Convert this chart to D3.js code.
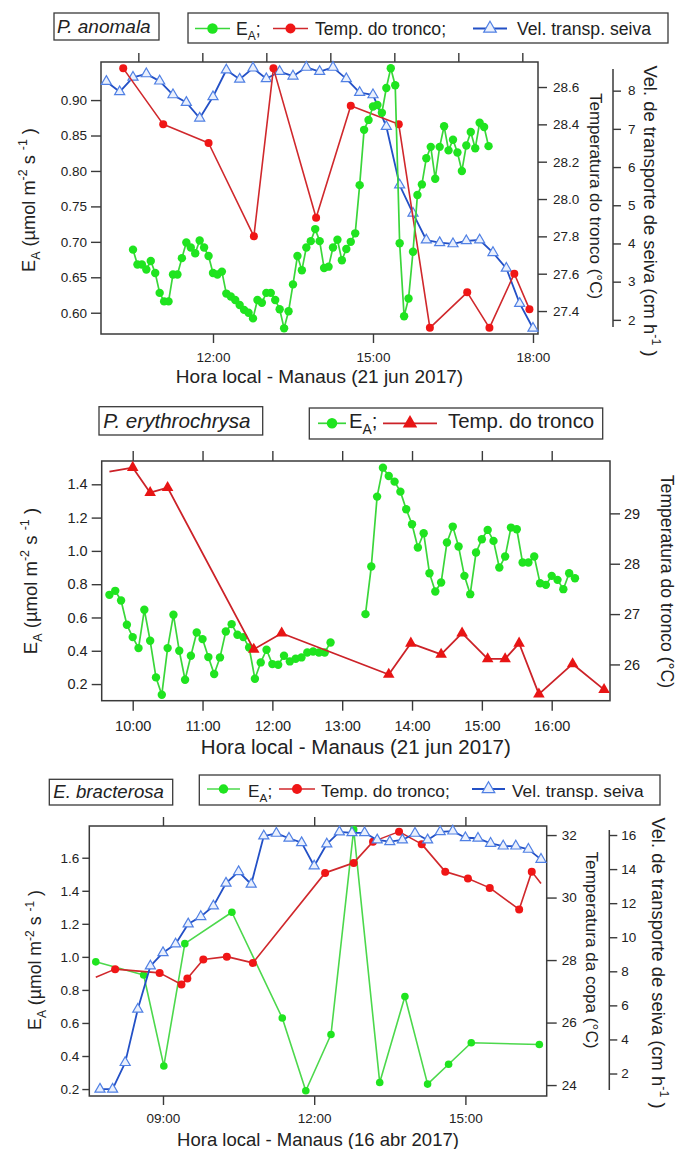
<!DOCTYPE html>
<html>
<head>
<meta charset="utf-8">
<script src="https://cdn.jsdelivr.net/npm/d3@7"></script>
<style>
  body { margin: 0; background: #fff; }
  svg { display: block; }
</style>
</head>
<body>
<svg id="fig" width="678" height="1149"></svg>
<script>
// ---------------- data ----------------
// P. anomala, 21 jun 2017
const anomalaEaStart = "10:30", anomalaEaStep = 5;          // logger every 5 min
const anomalaEa = [
  0.689,0.668,0.668,0.661,0.673,0.656,0.628,0.616,0.616,0.654,
  0.654,0.677,0.699,0.692,0.684,0.702,0.692,0.680,0.656,0.654,
  0.658,0.627,0.623,0.618,0.611,0.604,0.600,0.592,0.618,0.614,
  0.628,0.628,0.618,0.605,0.578,0.602,0.640,0.680,0.660,0.692,
  0.701,0.718,0.701,0.663,0.665,0.692,0.703,0.674,0.690,0.700,
  0.712,0.780,0.858,0.872,0.891,0.893,0.882,0.917,0.945,0.921,
  0.698,0.595,0.620,0.686,0.766,0.781,0.818,0.834,0.789,0.834,
  0.863,0.829,0.844,0.826,0.800,0.836,0.855,0.832,0.868,0.862,
  0.835];
const anomalaTempTimes = ["10:19","11:04","11:55","12:46","13:08","13:56","14:35",
                          "15:29","16:04","16:46","17:11","17:39","17:56"];
const anomalaTemp = [28.70,28.40,28.30,27.80,28.70,27.90,28.50,28.40,27.31,27.50,27.31,27.60,27.41];
const anomalaSapStart = "10:00", anomalaSapStep = 15;
const anomalaSap = [
  8.24,7.97,8.35,8.44,8.25,7.89,7.69,7.28,7.84,8.54,
  8.30,8.59,8.31,8.50,8.38,8.61,8.50,8.61,8.31,7.95,
  7.89,7.06,5.53,4.79,4.09,4.02,3.99,4.07,4.09,3.76,
  3.35,2.43,1.78];

// P. erythrochrysa, 21 jun 2017
const erythroEaMorningStart = "09:40", erythroEaStep = 5;
const erythroEaMorning = [
  0.736,0.760,0.702,0.556,0.482,0.416,0.646,0.460,0.240,0.136,
  0.416,0.616,0.400,0.226,0.370,0.510,0.470,0.362,0.260,0.360,
  0.516,0.560,0.496,0.482,0.420,0.232,0.330,0.406,0.320,0.316,
  0.370,0.336,0.352,0.360,0.390,0.396,0.390,0.390,0.450];
const erythroEaAfternoonStart = "13:20";
const erythroEaAfternoon = [
  0.620,0.906,1.326,1.500,1.450,1.416,1.356,1.250,1.160,1.020,
  1.106,0.866,0.756,0.810,1.050,1.146,1.026,0.850,0.740,0.990,
  1.070,1.126,1.060,0.900,0.966,1.140,1.130,0.930,0.930,0.966,
  0.806,0.796,0.850,0.826,0.770,0.866,0.836];
const erythroTempTimes = ["09:40","10:00","10:15","10:30","11:44","12:08","13:40","13:59",
                          "14:25","14:43","15:05","15:20","15:32","15:49","16:18","16:45"];
const erythroTemp = [29.83,29.91,29.41,29.51,26.30,26.62,25.80,26.42,
                     26.20,26.62,26.11,26.11,26.42,25.41,26.01,25.50];

// E. bracterosa, 16 abr 2017
const bractEaTimes = ["07:40","08:37","09:01","09:26","10:22","11:22","11:50","12:20",
                      "12:47","13:18","13:48","14:15","14:40","15:07","16:28"];
const bractEa = [0.97,0.89,0.34,1.08,1.27,0.63,0.19,0.53,1.77,0.24,0.76,0.23,0.35,0.48,0.47];
const bractTempTimes = ["07:40","08:03","08:56","09:22","09:29","09:48","10:16","10:47","12:13",
                        "12:47","13:10","13:41","14:08","14:36","15:03","15:29","16:04","16:19","16:30"];
const bractTemp = [27.45,27.71,27.59,27.22,27.41,28.02,28.11,27.91,30.79,
                   31.11,31.79,32.11,31.71,30.83,30.61,30.31,29.62,30.83,30.45];
const bractSapStart = "07:45", bractSapStep = 15;
const bractSap = [
  1.08,1.08,2.64,5.77,8.31,9.09,9.60,10.78,11.21,11.83,
  13.17,13.85,13.11,15.94,16.10,15.81,15.55,14.18,15.47,16.18,
  16.13,16.13,15.71,15.61,15.71,16.10,15.71,16.19,16.23,15.84,
  15.81,15.51,15.35,15.35,15.16,14.57];

// ---------------- tick values ----------------
const anomalaHourTicks = [12, 15, 18];
const anomalaTopTicks = [10.6, 11.8, 13.0, 14.2, 15.4, 16.6, 17.8];
const anomalaEaTicks = [0.60, 0.65, 0.70, 0.75, 0.80, 0.85, 0.90];
const anomalaTempTicks = [27.4, 27.6, 27.8, 28.0, 28.2, 28.4, 28.6];
const anomalaSapTicks = [2, 3, 4, 5, 6, 7, 8];

const erythroHourTicks = [10, 11, 12, 13, 14, 15, 16];
const erythroEaTicks = [0.2, 0.4, 0.6, 0.8, 1.0, 1.2, 1.4];
const erythroTempTicks = [26, 27, 28, 29];

const bractHourTicks = [9, 12, 15];
const bractEaTicks = [0.2, 0.4, 0.6, 0.8, 1.0, 1.2, 1.4, 1.6];
const bractTempTicks = [24, 26, 28, 30, 32];
const bractSapTicks = [2, 4, 6, 8, 10, 12, 14, 16];

// ---------------- helpers ----------------
const toHours = s => { const [h, m] = s.split(":").map(Number); return h + m / 60; };
const logged = (start, stepMin, values) => values.map((v, i) => ({ t: toHours(start) + i * stepMin / 60, v }));
const paired = (times, values) => times.map((s, i) => ({ t: toHours(s), v: values[i] }));
const hourLabel = h => String(h).padStart(2, "0") + ":00";

const FONT = '"Liberation Sans", Arial, Helvetica, sans-serif';
const INK = "#222";
const AXIS = "#3a3a3a";
const STYLE = {
  ea:   { kind: "circle", r: 4.2, fill: "#1fe41f", stroke: "none", line: "#3ad63a", lw: 1.7 },
  eaS:  { kind: "circle", r: 3.8, fill: "#1fe41f", stroke: "none", line: "#4cd84c", lw: 1.6 },
  temp: { kind: "circle", r: 4.0, fill: "#f01616", stroke: "none", line: "#d0282c", lw: 1.6 },
  tempTri: { kind: "tri", size: 58, fill: "#e81414", stroke: "none", line: "#cc2228", lw: 1.8 },
  sap:  { kind: "triOpen", size: 44, fill: "#eaf0fd", stroke: "#5080e4", line: "#2350c6", lw: 1.8 }
};
const LEGEND_SCALE = 1.25;   // legend keys are drawn a bit larger than plot markers

const svg = d3.select("#fig").style("font-family", FONT);

function addRich(text, parts, fs) {
  // parts: [string, "sub" | "sup" | undefined]
  let shift = 0;
  parts.forEach(([str, kind]) => {
    const target = kind === "sub" ? 0.28 * fs : kind === "sup" ? -0.42 * fs : 0;
    const ts = text.append("tspan").text(str);
    if (target !== shift) ts.attr("dy", target - shift);
    if (kind) ts.style("font-size", (fs * 0.68) + "px");
    shift = target;
  });
}

function marker(sel, st, cx, cy, k = 1) {
  if (st.kind === "circle") {
    sel.append("circle").attr("cx", cx).attr("cy", cy).attr("r", st.r * k).attr("fill", st.fill);
  } else {
    sel.append("path")
      .attr("d", d3.symbol(d3.symbolTriangle, st.size * k * k)())
      .attr("transform", `translate(${cx},${cy})`)
      .attr("fill", st.fill)
      .attr("stroke", st.stroke)
      .attr("stroke-width", st.kind === "triOpen" ? 1.2 : 0);
  }
}

const EA_TITLE = [["E"], ["A", "sub"], [" (µmol m"], ["-2", "sup"], [" s "], ["-1", "sup"], [" )"]];
const SAP_TITLE = [["Vel. de transporte de seiva (cm h"], ["-1", "sup"], [" )"]];

function drawPanel(P) {
  const g = svg.append("g");
  const { left, right, top, bottom } = P.frame;
  const x = d3.scaleLinear().domain(P.xDomain).range([left, right]);
  const scales = {
    ea: d3.scaleLinear().domain(P.eaDomain).range([bottom, top]),
    temp: d3.scaleLinear().domain(P.tempDomain).range([bottom, top])
  };
  if (P.sapDomain) scales.sap = d3.scaleLinear().domain(P.sapDomain).range([bottom, top]);

  const styleAxis = (a, fs) => {
    a.select(".domain").remove();
    a.selectAll(".tick line").attr("stroke", AXIS).attr("stroke-width", 1.4);
    a.selectAll("text").attr("fill", INK).style("font-size", fs + "px").style("font-family", FONT);
  };

  // axes
  g.append("g").attr("transform", `translate(0,${bottom})`)
    .call(d3.axisBottom(x).tickValues(P.hourTicks).tickFormat(hourLabel).tickSize(P.xTick).tickPadding(P.xPad))
    .call(a => styleAxis(a, P.tickFs));
  g.append("g").attr("transform", `translate(0,${top})`)
    .call(d3.axisTop(x).tickValues(P.topTicks).tickFormat("").tickSize(P.xTick))
    .call(a => styleAxis(a, P.tickFs));
  g.append("g").attr("transform", `translate(${left},0)`)
    .call(d3.axisLeft(scales.ea).tickValues(P.eaTicks).tickFormat(d3.format(P.eaFmt)).tickSize(P.yTick).tickPadding(P.yPad))
    .call(a => styleAxis(a, P.tickFs));
  g.append("g").attr("transform", `translate(${right},0)`)
    .call(d3.axisRight(scales.temp).tickValues(P.tempTicks).tickFormat(d3.format(P.tempFmt)).tickSize(P.tTick).tickPadding(P.tPad))
    .call(a => styleAxis(a, P.tickFs));
  if (scales.sap) {
    const ax = g.append("g").attr("transform", `translate(${P.sapX},0)`)
      .call(d3.axisRight(scales.sap).tickValues(P.sapTicks).tickFormat(d3.format("d")).tickSize(P.sTick).tickPadding(P.sPad))
      .call(a => styleAxis(a, P.tickFs));
    ax.append("line").attr("x1", 0).attr("x2", 0)
      .attr("y1", P.sapLine[0]).attr("y2", P.sapLine[1])
      .attr("stroke", AXIS).attr("stroke-width", 1.5);
  }
  g.append("rect").attr("x", left).attr("y", top)
    .attr("width", right - left).attr("height", bottom - top)
    .attr("fill", "none").attr("stroke", AXIS).attr("stroke-width", 1.5);

  // series
  P.series.forEach(s => {
    const ys = scales[s.axis];
    const st = STYLE[s.style];
    const line = d3.line().defined(d => d.v != null).x(d => x(d.t)).y(d => ys(d.v));
    g.append("path").datum(s.data).attr("d", line)
      .attr("fill", "none").attr("stroke", st.line).attr("stroke-width", st.lw)
      .attr("stroke-linejoin", "round");
    const mg = g.append("g");
    s.data.forEach((d, i) => {
      if (d.v == null || (s.bare || []).includes(i)) return;
      marker(mg, st, x(d.t), ys(d.v));
    });
  });

  // titles
  g.append("text").attr("x", (left + right) / 2).attr("y", P.xTitle.y)
    .attr("text-anchor", "middle").attr("fill", INK).style("font-size", P.xTitle.fs + "px")
    .text(P.xTitle.text);

  const eaT = g.append("text").attr("text-anchor", "middle").attr("fill", INK)
    .attr("transform", `translate(${P.eaTitle.x},${P.eaTitle.y}) rotate(-90)`)
    .style("font-size", P.eaTitle.fs + "px");
  addRich(eaT, EA_TITLE, P.eaTitle.fs);

  g.append("text").attr("text-anchor", "middle").attr("fill", INK)
    .attr("transform", `translate(${P.tempTitle.x},${P.tempTitle.y}) rotate(90)`)
    .style("font-size", P.tempTitle.fs + "px").text(P.tempTitle.text);

  if (P.sapTitle) {
    const sT = g.append("text").attr("text-anchor", "middle").attr("fill", INK)
      .attr("transform", `translate(${P.sapTitle.x},${P.sapTitle.y}) rotate(90)`)
      .style("font-size", P.sapTitle.fs + "px");
    addRich(sT, SAP_TITLE, P.sapTitle.fs);
  }

  // species tag
  const sp = P.species;
  g.append("rect").attr("x", sp.box[0]).attr("y", sp.box[1])
    .attr("width", sp.box[2] - sp.box[0]).attr("height", sp.box[3] - sp.box[1])
    .attr("fill", "#fff").attr("stroke", AXIS).attr("stroke-width", 1.3);
  g.append("text").attr("x", sp.tx).attr("y", sp.ty).attr("fill", INK)
    .style("font-size", sp.fs + "px").style("font-style", "italic").text(sp.text);

  // legend
  const L = P.legend;
  g.append("rect").attr("x", L.box[0]).attr("y", L.box[1])
    .attr("width", L.box[2] - L.box[0]).attr("height", L.box[3] - L.box[1])
    .attr("fill", "#fff").attr("stroke", AXIS).attr("stroke-width", 1.3);
  L.items.forEach(it => {
    const st = STYLE[it.style];
    g.append("line").attr("x1", it.x0).attr("x2", it.x1).attr("y1", L.sy).attr("y2", L.sy)
      .attr("stroke", st.line).attr("stroke-width", st.lw);
    marker(g, st, (it.x0 + it.x1) / 2, L.sy, LEGEND_SCALE);
    const t = g.append("text").attr("x", it.tx).attr("y", L.ty).attr("fill", INK)
      .style("font-size", L.fs + "px");
    addRich(t, it.label, L.fs);
  });
}

// ---------------- panels ----------------
drawPanel({
  frame: { left: 101, right: 538, top: 62, bottom: 334 },
  xDomain: [9.9, 18.094],
  eaDomain: [0.570, 0.9537], tempDomain: [27.277, 28.734], sapDomain: [1.63, 8.75],
  hourTicks: anomalaHourTicks, topTicks: anomalaTopTicks,
  eaTicks: anomalaEaTicks, eaFmt: ".2f",
  tempTicks: anomalaTempTicks, tempFmt: ".1f",
  sapTicks: anomalaSapTicks, sapX: 613, sapLine: [69, 327],
  xTick: 9, xPad: 9, yTick: 10, yPad: 4, tTick: 9, tPad: 6, sTick: 8, sPad: 7, tickFs: 13.5,
  series: [
    { axis: "sap", style: "sap", data: logged(anomalaSapStart, anomalaSapStep, anomalaSap) },
    { axis: "temp", style: "temp", data: paired(anomalaTempTimes, anomalaTemp) },
    { axis: "ea", style: "ea", data: logged(anomalaEaStart, anomalaEaStep, anomalaEa) }
  ],
  xTitle: { text: "Hora local - Manaus (21 jun 2017)", y: 383, fs: 19 },
  eaTitle: { x: 35, y: 200, fs: 18.2 },
  tempTitle: { text: "Temperatura do tronco (°C)", x: 590, y: 196, fs: 17 },
  sapTitle: { x: 644, y: 211, fs: 18.4 },
  species: { text: "P. anomala", box: [54, 13, 159, 40], tx: 57, ty: 33.3, fs: 19 },
  legend: {
    box: [188, 13, 668, 43], sy: 28.5, ty: 35, fs: 17.6,
    items: [
      { style: "ea", x0: 195, x1: 230, tx: 236, label: [["E"], ["A", "sub"], [";"]] },
      { style: "temp", x0: 273, x1: 308, tx: 315, label: [["Temp. do tronco;"]] },
      { style: "sap", x0: 473, x1: 507, tx: 517, label: [["Vel. transp. seiva"]] }
    ]
  }
});

drawPanel({
  frame: { left: 101.7, right: 610, top: 461, bottom: 700.7 },
  xDomain: [9.556, 16.835],
  eaDomain: [0.10, 1.54], tempDomain: [25.28, 30.04],
  hourTicks: erythroHourTicks, topTicks: erythroHourTicks,
  eaTicks: erythroEaTicks, eaFmt: ".1f",
  tempTicks: erythroTempTicks, tempFmt: "d",
  xTick: 10, xPad: 10, yTick: 10, yPad: 4, tTick: 10, tPad: 4, tickFs: 14.5,
  series: [
    { axis: "ea", style: "ea",
      data: logged(erythroEaMorningStart, erythroEaStep, erythroEaMorning)
        .concat([{ t: 13.0, v: null }])
        .concat(logged(erythroEaAfternoonStart, erythroEaStep, erythroEaAfternoon)) },
    { axis: "temp", style: "tempTri", data: paired(erythroTempTimes, erythroTemp), bare: [0] }
  ],
  xTitle: { text: "Hora local - Manaus (21 jun 2017)", y: 754, fs: 20.5 },
  eaTitle: { x: 37, y: 581, fs: 18.5 },
  tempTitle: { text: "Temperatura do tronco (°C)", x: 661, y: 581.5, fs: 17.6 },
  species: { text: "P. erythrochrysa", box: [99, 406.7, 262.7, 435], tx: 103.3, ty: 428.3, fs: 20.6 },
  legend: {
    box: [309.3, 408, 602.7, 439], sy: 423.3, ty: 428.3, fs: 20.4,
    items: [
      { style: "ea", x0: 318, x1: 346, tx: 349, label: [["E"], ["A", "sub"], [";"]] },
      { style: "tempTri", x0: 383, x1: 437, tx: 448, label: [["Temp. do tronco"]] }
    ]
  }
});

drawPanel({
  frame: { left: 89.3, right: 546.7, top: 826, bottom: 1096 },
  xDomain: [7.538, 16.613],
  eaDomain: [0.158, 1.792], tempDomain: [23.65, 32.29], sapDomain: [0.68, 16.53],
  hourTicks: bractHourTicks, topTicks: bractHourTicks,
  eaTicks: bractEaTicks, eaFmt: ".1f",
  tempTicks: bractTempTicks, tempFmt: "d",
  sapTicks: bractSapTicks, sapX: 609.3, sapLine: [830, 1090],
  xTick: 9, xPad: 8.5, yTick: 7, yPad: 3, tTick: 10, tPad: 5, sTick: 8, sPad: 4, tickFs: 13.5,
  series: [
    { axis: "ea", style: "eaS", data: paired(bractEaTimes, bractEa) },
    { axis: "temp", style: "temp", data: paired(bractTempTimes, bractTemp), bare: [0, 18] },
    { axis: "sap", style: "sap", data: logged(bractSapStart, bractSapStep, bractSap) }
  ],
  xTitle: { text: "Hora local - Manaus (16 abr 2017)", y: 1146, fs: 18.5 },
  eaTitle: { x: 41, y: 960, fs: 17.7 },
  tempTitle: { text: "Temperatura da copa (°C)", x: 586, y: 950, fs: 17.1 },
  sapTitle: { x: 652, y: 963, fs: 18.4 },
  species: { text: "E. bracterosa", box: [49.3, 779.3, 172.7, 805], tx: 53.3, ty: 798.3, fs: 18.6 },
  legend: {
    box: [199.3, 775, 660, 805], sy: 789, ty: 796.7, fs: 17.3,
    items: [
      { style: "eaS", x0: 207, x1: 240, tx: 248, label: [["E"], ["A", "sub"], [";"]] },
      { style: "temp", x0: 279, x1: 315, tx: 321, label: [["Temp. do tronco;"]] },
      { style: "sap", x0: 472, x1: 505, tx: 512, label: [["Vel. transp. seiva"]] }
    ]
  }
});
</script>
</body>
</html>
